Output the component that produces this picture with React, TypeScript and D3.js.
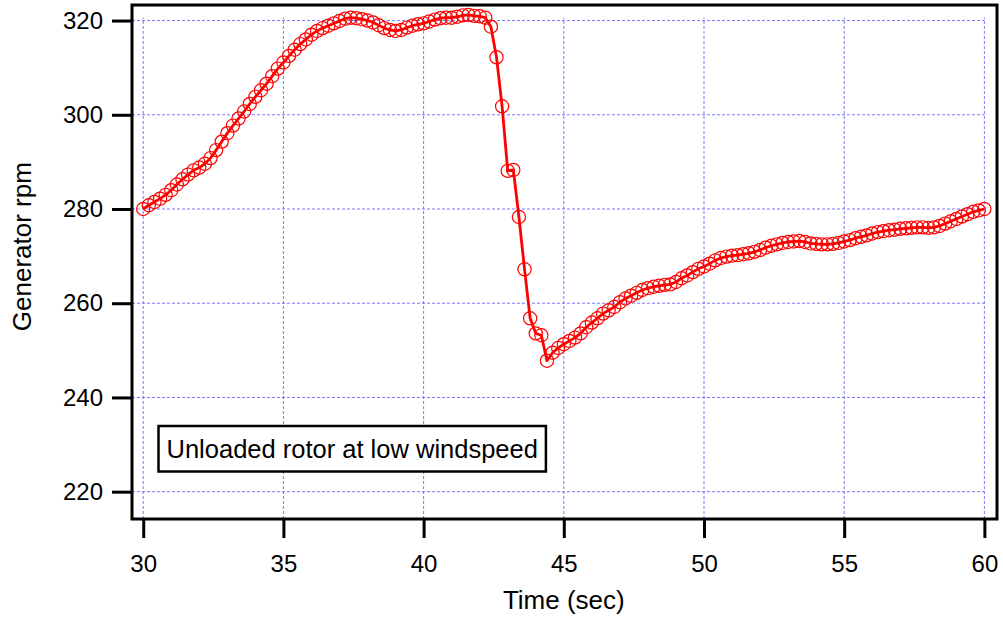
import React, {useRef, useEffect} from 'react'
import * as d3 from 'd3'

// sampled every 0.2 s from 30 s to 60 s
const sampleStart = 30
const sampleStep = 0.2
const rpm = [
  280.0, 280.8, 281.5, 282.2, 283.0, 284.0, 285.2, 286.3, 287.3, 288.2,
  288.8, 289.6, 290.8, 292.5, 294.3, 296.1, 297.7, 299.2, 300.7, 302.3,
  303.8, 305.2, 306.6, 308.2, 309.8, 311.1, 312.5, 313.8, 315.0, 316.0,
  317.0, 317.8, 318.4, 318.9, 319.4, 319.9, 320.4, 320.6, 320.5, 320.3,
  320.0, 319.6, 319.0, 318.4, 318.0, 317.8, 318.0, 318.5, 318.9, 319.2,
  319.4, 319.8, 320.2, 320.5, 320.6, 320.6, 320.8, 321.1, 321.2, 321.0,
  320.9, 320.6, 318.7, 312.2, 301.8, 288.1, 288.3, 278.3, 267.2, 256.8,
  253.6, 253.2, 247.8, 249.5, 250.5, 251.3, 252.0, 252.7, 253.6, 254.9,
  255.9, 256.8, 257.8, 258.5, 259.2, 260.2, 261.0, 261.6, 262.2, 262.8,
  263.2, 263.5, 263.7, 263.9, 264.0, 264.5, 265.3, 265.9, 266.6, 267.3,
  267.8, 268.4, 269.1, 269.6, 269.9, 270.1, 270.2, 270.4, 270.6, 270.9,
  271.3, 271.8, 272.2, 272.5, 272.8, 273.0, 273.1, 273.2, 273.0, 272.7,
  272.6, 272.5, 272.5, 272.6, 272.8, 273.1, 273.4, 273.8, 274.1, 274.4,
  274.8, 275.1, 275.3, 275.5, 275.6, 275.8, 275.9, 276.0, 276.1, 276.1,
  276.0, 276.1, 276.4, 276.9, 277.4, 277.9, 278.4, 278.9, 279.4, 279.7,
  280.0
]
const xTicks = [30, 35, 40, 45, 50, 55, 60]
const yTicks = [220, 240, 260, 280, 300, 320]
const annotation = 'Unloaded rotor at low windspeed'
const xTitle = 'Time (sec)'
const yTitle = 'Generator rpm'

export default function App() {
  const ref = useRef<SVGSVGElement>(null)

  useEffect(() => {
    const svg = d3.select(ref.current)
    svg.selectAll('*').remove()

    const left = 132
    const right = 997
    const top = 5
    const bottom = 519
    const font = 'Liberation Sans, Arial, sans-serif'

    const x = d3.scaleLinear().domain([29.6, 60.45]).range([left, right])
    const y = d3.scaleLinear().domain([214.2, 323.3]).range([bottom, top])

    const data = rpm.map((v, i) => ({t: sampleStart + i * sampleStep, v}))

    // grid
    const grid = svg.append('g')
      .attr('stroke', '#7878ff')
      .attr('stroke-width', 1)
      .attr('stroke-dasharray', '3,2')
    grid.selectAll('line.h')
      .data(yTicks)
      .join('line')
      .attr('x1', left)
      .attr('x2', x(60))
      .attr('y1', d => y(d))
      .attr('y2', d => y(d))
    grid.selectAll('line.v')
      .data(xTicks)
      .enter()
      .append('line')
      .attr('x1', d => x(d))
      .attr('x2', d => x(d))
      .attr('y1', bottom)
      .attr('y2', y(320) - 3)

    // series
    const line = d3.line<{t: number, v: number}>()
      .x(d => x(d.t))
      .y(d => y(d.v))
    svg.append('path')
      .datum(data)
      .attr('d', line)
      .attr('fill', 'none')
      .attr('stroke', '#ff0000')
      .attr('stroke-width', 2.8)
      .attr('stroke-linejoin', 'round')
    svg.append('g')
      .selectAll('circle')
      .data(data)
      .join('circle')
      .attr('cx', d => x(d.t))
      .attr('cy', d => y(d.v))
      .attr('r', 6.6)
      .attr('fill', 'none')
      .attr('stroke', '#ff0000')
      .attr('stroke-width', 1.2)

    // frame
    svg.append('rect')
      .attr('x', left)
      .attr('y', top)
      .attr('width', right - left)
      .attr('height', bottom - top)
      .attr('fill', 'none')
      .attr('stroke', '#000')
      .attr('stroke-width', 3)

    // axes
    const xAxis = svg.append('g')
      .attr('transform', `translate(0,${bottom})`)
      .call(d3.axisBottom(x).tickValues(xTicks).tickSize(19).tickPadding(17).tickSizeOuter(0))
    const yAxis = svg.append('g')
      .attr('transform', `translate(${left},0)`)
      .call(d3.axisLeft(y).tickValues(yTicks).tickSize(20).tickPadding(9).tickSizeOuter(0))
    for (const ax of [xAxis, yAxis]) {
      ax.select('.domain').remove()
      ax.selectAll('line').attr('stroke', '#000').attr('stroke-width', 3)
      ax.selectAll('text')
        .attr('fill', '#000')
        .style('font-family', font)
        .style('font-size', '24px')
    }

    // titles
    svg.append('text')
      .attr('x', x(45))
      .attr('y', 609)
      .attr('text-anchor', 'middle')
      .style('font-family', font)
      .style('font-size', '26px')
      .text(xTitle)
    svg.append('text')
      .attr('transform', `translate(31,${y(272)}) rotate(-90)`)
      .attr('text-anchor', 'middle')
      .style('font-family', font)
      .style('font-size', '26px')
      .text(yTitle)

    // annotation box
    const box = svg.append('g')
    const label = box.append('text')
      .attr('x', 166.5)
      .attr('y', 458)
      .style('font-family', font)
      .style('font-size', '25.5px')
      .text(annotation)
    const bb = (label.node() as SVGTextElement).getBBox()
    box.insert('rect', 'text')
      .attr('x', 158.5)
      .attr('y', 426)
      .attr('width', bb.width + 16)
      .attr('height', 45.5)
      .attr('fill', '#fff')
      .attr('stroke', '#000')
      .attr('stroke-width', 2.5)
  }, [])

  return (
    <svg
      ref={ref}
      width={1003}
      height={620}
      style={{position: 'absolute', left: 0, top: 0, background: '#fff'}}
    />
  )
}
